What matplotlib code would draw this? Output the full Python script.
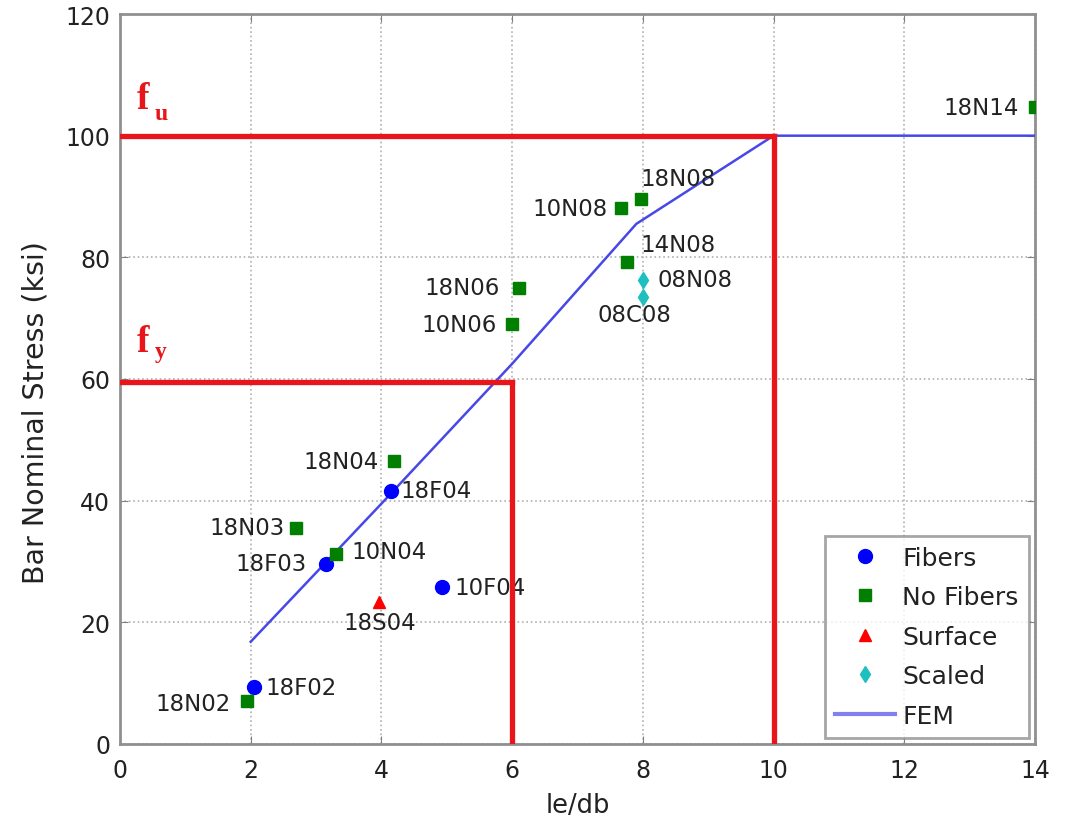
import matplotlib
matplotlib.use("Agg")
import matplotlib.pyplot as plt

plt.rcParams['font.family'] = ['DejaVu Sans']

# Data
fibers_x = [2.05, 3.15, 4.15, 4.93]
fibers_y = [9.3, 29.6, 41.6, 25.8]
fibers_lbl = ['18F02', '18F03', '18F04', '10F04']

nofib_x = [1.95, 2.7, 3.3, 4.2, 6.0, 6.1, 7.67, 7.97, 7.76, 14.0]
nofib_y = [7.0, 35.5, 31.2, 46.5, 69.0, 75.0, 88.1, 89.6, 79.2, 104.7]
nofib_lbl = ['18N02', '18N03', '10N04', '18N04', '10N06', '18N06', '10N08', '18N08', '14N08', '18N14']

surf_x = [3.97]
surf_y = [23.3]
surf_lbl = ['18S04']

scaled_x = [8.0, 8.0]
scaled_y = [76.3, 73.5]
scaled_lbl = ['08N08', '08C08']

fem_x = [2, 4, 6, 7.9, 10, 14]
fem_y = [16.8, 39.5, 62.5, 85.5, 100, 100]

fu, fy = 100, 59.5
lu, ly = 10, 6

# label offsets (pixels) and alignment
offsets = {
    '18F02': (11, 0, 'left'), '18F03': (-19, 0, 'right'), '18F04': (9, 0, 'left'),
    '10F04': (12, 0, 'left'),
    '18N02': (-17, -2, 'right'), '18N03': (-12, 1, 'right'), '10N04': (16, 3, 'left'),
    '18N04': (-16, 0, 'right'), '10N06': (-15, 0, 'right'), '18N06': (-19, 0, 'right'),
    '10N08': (-14, 0, 'right'), '18N08': (0, 20, 'left'), '14N08': (13, 18, 'left'),
    '18N14': (-16, 0, 'right'),
    '18S04': (0, -20, 'center'),
    '08N08': (15, 0, 'left'), '08C08': (-8, -18, 'center'),
}

fig = plt.figure(figsize=(10.77, 8.2), dpi=100)
ax = fig.add_axes([0.1114, 0.0915, 0.8496, 0.8902])

red = '#e8151b'
ax.plot([0, lu], [fu, fu], color=red, lw=3.8, zorder=6)
ax.plot([lu, lu], [0, fu], color=red, lw=3.8, zorder=6)
ax.plot([0, ly], [fy, fy], color=red, lw=3.8, zorder=6)
ax.plot([ly, ly], [0, fy], color=red, lw=3.8, zorder=6)

ax.plot(fibers_x, fibers_y, 'o', color='#0000ff', ms=10, ls='none', label='Fibers', zorder=4)
ax.plot(nofib_x, nofib_y, 's', color='#007f00', ms=8.5, ls='none', label='No Fibers', zorder=4)
ax.plot(surf_x, surf_y, '^', color='#ff0000', ms=9, ls='none', label='Surface', zorder=4)
ax.plot(scaled_x, scaled_y, 'd', color='#1fbfbf', ms=8, ls='none', label='Scaled', zorder=4)
ax.plot(fem_x, fem_y, '-', color='#4848e8', lw=1.8, label='FEM', zorder=3)

def lab(xs, ys, ls):
    for x, y, l in zip(xs, ys, ls):
        dx, dy, ha = offsets[l]
        ax.annotate(l, (x, y), xytext=(dx, dy), textcoords='offset pixels',
                    ha=ha, va='center', fontsize=16.5, color='#222222', zorder=5)

lab(fibers_x, fibers_y, fibers_lbl)
lab(nofib_x, nofib_y, nofib_lbl)
lab(surf_x, surf_y, surf_lbl)
lab(scaled_x, scaled_y, scaled_lbl)

ax.text(0.25, 104.6, 'f', fontsize=27, fontweight='bold', family='Liberation Serif',
        color=red, va='baseline')
ax.text(0.53, 102.8, 'u', fontsize=17, fontweight='bold', family='Liberation Serif',
        color=red, va='baseline')
ax.text(0.25, 64.6, 'f', fontsize=27, fontweight='bold', family='Liberation Serif',
        color=red, va='baseline')
ax.text(0.53, 63.6, 'y', fontsize=17, fontweight='bold', family='Liberation Serif',
        color=red, va='baseline')

ax.set_xlim(0, 14)
ax.set_ylim(0, 120)
ax.set_xticks(range(0, 15, 2))
ax.set_yticks(range(0, 121, 20))
ax.grid(True, ls=':', color='#b0b0b0', lw=1.2)
ax.tick_params(direction='in', top=True, right=True, labelsize=17, length=6,
               color='#808080', labelcolor='#222222')
ax.tick_params(axis='x', pad=10)
ax.tick_params(axis='y', pad=7)
for s in ax.spines.values():
    s.set_color('#909090')
    s.set_linewidth(2)

ax.set_xlabel('le/db', fontsize=18.5, color='#222222')
ax.set_ylabel('Bar Nominal Stress (ksi)', fontsize=20.5, color='#222222')
ax.xaxis.set_label_coords(0.5, -0.066)
ax.yaxis.set_label_coords(-0.077, 0.455)

leg = ax.legend(loc='lower right', fontsize=18, frameon=True, fancybox=False,
                edgecolor='#909090', borderpad=0.4, labelspacing=0.62,
                handlelength=2.4, handletextpad=0.3, borderaxespad=0.25)
leg.get_frame().set_linewidth(2)
leg.set_zorder(7)
for t in leg.get_texts():
    t.set_color('#222222')
leg.get_lines()[-1].set_color('#8080f0')
leg.get_lines()[-1].set_linewidth(3)

fig.savefig('out.png', dpi=100)
